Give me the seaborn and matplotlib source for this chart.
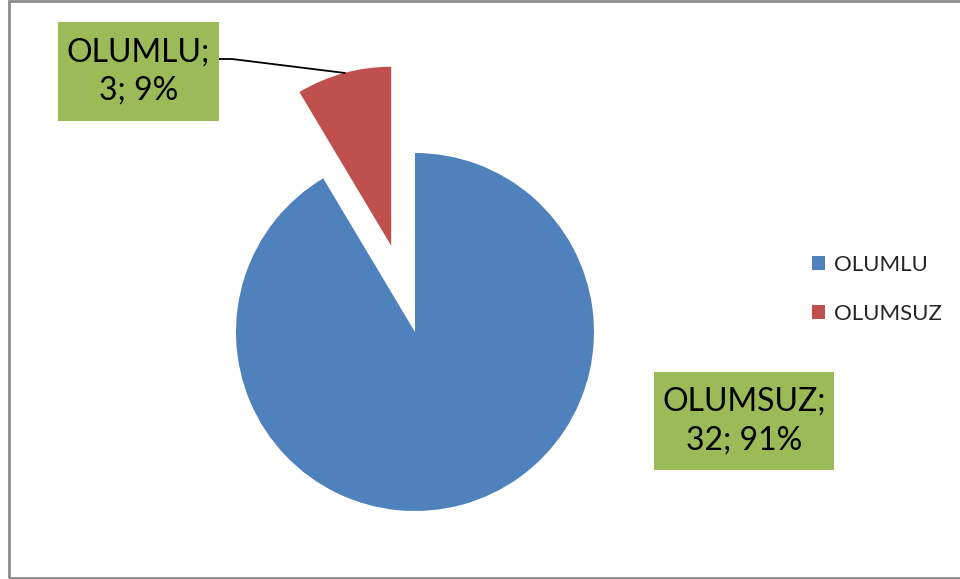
import numpy as np
import matplotlib
matplotlib.use("Agg")
import matplotlib.pyplot as plt
from matplotlib.patches import Rectangle
import seaborn as sns

# Veriler
kategoriler = ["OLUMLU", "OLUMSUZ"]
degerler = [32, 3]
yuzdeler = [91, 9]
# Etiketlerde kullanılan adlar (orijinal grafikteki gibi)
etiket_adlari = ["OLUMSUZ", "OLUMLU"]
renkler = ["#4F81BD", "#C0504D"]
etiket_rengi = "#9BBB59"

sns.set_theme(style="white")
plt.rcParams['font.family'] = ['Lato', 'DejaVu Sans']

W, H = 960, 579
fig = plt.figure(figsize=(9.6, 5.79), dpi=100)
ax = fig.add_axes([0, 0, 1, 1])

# Pasta grafiği (piksel koordinatlarında)
merkez = (415, H - 332)
yaricap = 179
ayirma = [0, 0.5 * yaricap]  # explode, yarıçapla ölçeklenmiyor
dilimler, _ = ax.pie(degerler, colors=renkler, startangle=90, counterclock=False,
                     explode=ayirma, radius=yaricap, center=merkez, frame=True,
                     wedgeprops=dict(linewidth=0))
ax.set_xlim(0, W)
ax.set_ylim(0, H)
ax.set_aspect("equal")
ax.axis("off")

# Veri etiketleri
kutular = [(654, 372, 180, 98), (58, 22, 161, 99)]
for i, (x0, y0, w, h) in enumerate(kutular):
    ax.add_patch(Rectangle((x0, H - y0 - h), w, h, facecolor=etiket_rengi,
                           edgecolor="none", zorder=3))
    metin = f"{etiket_adlari[i]};\n{degerler[i]}; {yuzdeler[i]}%"
    ax.text(x0 + w / 2, H - y0 - h / 2, metin, ha="center", va="center",
            fontsize=23, color="black", linespacing=1.35, zorder=4)

# Kılavuz çizgisi
ax.plot([218, 232, 345], [H - 59, H - 59, H - 73], color="black", lw=1.3, zorder=2)

# Gösterge
ax.legend(dilimler, kategoriler, loc="center left", bbox_to_anchor=(812, H - 289.5),
          bbox_transform=ax.transData, frameon=False, fontsize=16,
          handlelength=0.6, handleheight=0.6, handletextpad=0.4,
          labelspacing=1.3, borderpad=0, borderaxespad=0)

# Grafik alanı çerçevesi
fig.patches.append(Rectangle((8.5 / W, 1.5 / H), 1.2, (H - 2.5) / H, transform=fig.transFigure,
                             facecolor="none", edgecolor="#8C8C8C", lw=2, zorder=10))

fig.savefig("out.png", dpi=100)
